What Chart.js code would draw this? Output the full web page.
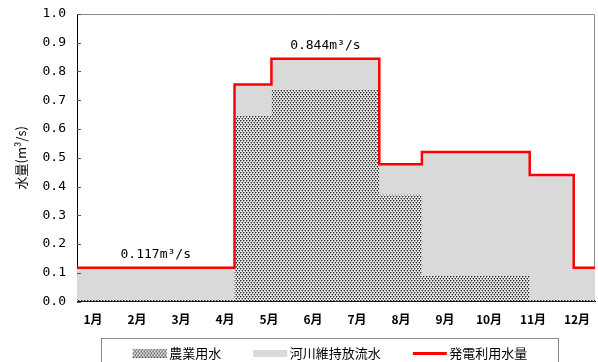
<!DOCTYPE html>
<html lang="ja">
<head>
<meta charset="utf-8">
<title>発電利用水量</title>
<script src="https://cdn.jsdelivr.net/npm/chart.js@4/dist/chart.umd.min.js"></script>
<style>
  html, body { margin: 0; padding: 0; background: #fff; }
  canvas { display: block; }
</style>
</head>
<body>
<canvas id="chart" width="598" height="362"></canvas>
<script>
// 横軸の月ラベル
const months = ['1月', '2月', '3月', '4月', '5月', '6月', '7月', '8月', '9月', '10月', '11月', '12月'];

// 各期間の開始日（1月1日を0とする通日）と年末
const periodStart = [0, 111, 137, 213, 243, 319, 350];
const yearEnd = 365;

// 期間ごとの水量 (m³/s)
const agriWater  = [0.006, 0.646, 0.737, 0.371, 0.089, 0.006, 0.006]; // 農業用水
const riverWater = [0.111, 0.109, 0.107, 0.106, 0.431, 0.434, 0.111]; // 河川維持放流水
const powerWater = [0.117, 0.755, 0.844, 0.477, 0.520, 0.440, 0.117]; // 発電利用水量

// 数値を書き添える期間
const labeledPeriods = [0, 2];

// 縦軸の範囲
const yMin = 0, yMax = 1.0, yStep = 0.1;

// 階段状の系列（各期間の値を次の期間の開始まで保持）
function steps(values) {
  const pts = periodStart.map((x, i) => ({ x: x, y: values[i] }));
  pts.push({ x: yearEnd, y: values[values.length - 1] });
  return pts;
}

// 農業用水の網点パターン
function dotTile() {
  const c = document.createElement('canvas');
  c.width = 3; c.height = 4;
  const g = c.getContext('2d');
  g.fillStyle = '#ececec'; g.fillRect(0, 0, 3, 4);
  g.fillStyle = '#8f8f8f';
  g.fillRect(1, 0, 1, 1); g.fillRect(0, 1, 1, 1);
  g.fillRect(1, 2, 1, 1); g.fillRect(2, 3, 1, 1);
  g.fillStyle = '#2a2a2a';
  g.fillRect(0, 0, 1, 1); g.fillRect(2, 2, 1, 1);
  return c;
}
const dotPattern = document.createElement('canvas').getContext('2d').createPattern(dotTile(), 'repeat');

// 凡例の見本（左側に余白を持たせた画像）
function swatch(h, paint) {
  const c = document.createElement('canvas');
  c.width = 58; c.height = h;
  const g = c.getContext('2d');
  g.fillStyle = paint(g);
  g.fillRect(21, 0, 34, h);
  return c;
}
const legendSwatches = [
  swatch(9, g => g.createPattern(dotTile(), 'repeat')),
  swatch(7, () => '#d9d9d9'),
  swatch(3, () => '#ff0000')
];

const GRAY = '#d9d9d9';
const RED = '#ff0000';

// 枠線・目盛・数値ラベル・凡例枠
const decorations = {
  id: 'decorations',
  afterLayout(chart) {
    // 凡例の横位置の微調整
    if (chart.legend) { chart.legend.left -= 13; chart.legend.right -= 13; }
  },
  beforeDatasetsDraw(chart) {
    const { ctx, chartArea: a } = chart;
    ctx.save();
    ctx.strokeStyle = '#8c8c8c';
    ctx.lineWidth = 1;
    ctx.beginPath();
    ctx.moveTo(a.left, a.top + 0.5);
    ctx.lineTo(a.right - 0.5, a.top + 0.5);
    ctx.lineTo(a.right - 0.5, a.bottom);
    ctx.stroke();
    ctx.restore();
  },
  afterDatasetsDraw(chart) {
    const { ctx, chartArea: a, scales: { x, y } } = chart;
    ctx.save();
    // 縦軸の内向き目盛
    ctx.strokeStyle = '#555';
    ctx.lineWidth = 1;
    y.ticks.forEach(t => {
      const py = Math.round(y.getPixelForValue(t.value)) + 0.5;
      ctx.beginPath();
      ctx.moveTo(a.left, py);
      ctx.lineTo(a.left + 4, py);
      ctx.stroke();
    });
    // 数値ラベル
    ctx.fillStyle = '#000';
    ctx.font = '13px "DejaVu Sans Mono"';
    ctx.textAlign = 'center';
    ctx.textBaseline = 'middle';
    labeledPeriods.forEach(i => {
      const end = i + 1 < periodStart.length ? periodStart[i + 1] : yearEnd;
      const cx = (x.getPixelForValue(periodStart[i]) + x.getPixelForValue(end)) / 2;
      const cy = y.getPixelForValue(powerWater[i]) - 13;
      ctx.fillText(powerWater[i].toFixed(3) + 'm³/s', cx, cy);
    });
    ctx.restore();
  },
  afterDraw(chart) {
    const lg = chart.legend;
    if (!lg || !lg.legendHitBoxes || !lg.legendHitBoxes.length) return;
    const hb = lg.legendHitBoxes;
    const left = hb[0].left + 14 - 32;
    const last = hb[hb.length - 1];
    const right = last.left + last.width + 30;
    const top = hb[0].top + hb[0].height / 2 - 15;
    const { ctx } = chart;
    ctx.save();
    ctx.strokeStyle = '#8c8c8c';
    ctx.lineWidth = 1;
    ctx.strokeRect(Math.round(left) + 0.5, Math.round(top) + 0.5, Math.round(right - left), 40);
    ctx.restore();
  }
};

Chart.defaults.font.family = '"Noto Sans CJK JP", sans-serif';
Chart.defaults.color = '#000';

new Chart(document.getElementById('chart'), {
  type: 'line',
  data: {
    datasets: [
      {
        label: '農業用水',
        data: steps(agriWater),
        stack: 'flow',
        order: 1,
        stepped: 'before',
        fill: 'origin',
        backgroundColor: dotPattern,
        borderWidth: 0,
        borderColor: 'rgba(0,0,0,0)',
        pointRadius: 0
      },
      {
        label: '河川維持放流水',
        data: steps(riverWater),
        stack: 'flow',
        order: 2,
        stepped: 'before',
        fill: '-1',
        backgroundColor: GRAY,
        borderWidth: 0,
        borderColor: 'rgba(0,0,0,0)',
        pointRadius: 0
      },
      {
        label: '発電利用水量',
        data: steps(powerWater),
        stack: 'power',
        order: 0,
        stepped: 'before',
        fill: false,
        borderColor: RED,
        backgroundColor: RED,
        borderWidth: 2.5,
        pointRadius: 0
      }
    ]
  },
  options: {
    responsive: false,
    devicePixelRatio: 1,
    animation: false,
    layout: { padding: { left: 0, right: 3, top: 14, bottom: -7.5 } },
    scales: {
      x: {
        type: 'linear',
        min: 0,
        max: yearEnd,
        afterBuildTicks: s => { s.ticks = months.map((m, i) => ({ value: 11.3 + 31 * i })); },
        afterFit: s => { s.height = 27; s.paddingLeft = 0; s.paddingRight = 0; },
        ticks: {
          autoSkip: false,
          maxRotation: 0,
          padding: 11,
          font: { size: 12, weight: 'bold' },
          callback: (v, i) => months[i]
        },
        grid: { display: false, drawTicks: false },
        border: { display: true, color: '#000', width: 1 }
      },
      y: {
        min: yMin,
        max: yMax,
        stacked: true,
        afterFit: s => { s.width = 77; s.paddingTop = 0; s.paddingBottom = 0; },
        ticks: {
          stepSize: yStep,
          padding: 11,
          font: { family: '"DejaVu Sans Mono"', size: 13 },
          callback: v => Number(v).toFixed(1)
        },
        grid: { display: false, drawTicks: false },
        border: { display: true, color: '#000', width: 1 },
        title: {
          display: true,
          text: '水量(m³/s)',
          font: { size: 13 },
          padding: { top: 13, bottom: 0 }
        }
      }
    },
    plugins: {
      tooltip: { enabled: false },
      legend: {
        position: 'bottom',
        fullSize: false,
        labels: {
          usePointStyle: true,
          pointStyleWidth: 44,
          padding: 18,
          font: { size: 13 },
          sort: (a, b) => a.datasetIndex - b.datasetIndex,
          generateLabels: chart => {
            const items = Chart.defaults.plugins.legend.labels.generateLabels(chart);
            items.forEach(it => { it.pointStyle = legendSwatches[it.datasetIndex]; });
            return items;
          }
        }
      }
    }
  },
  plugins: [decorations]
});
</script>
</body>
</html>
